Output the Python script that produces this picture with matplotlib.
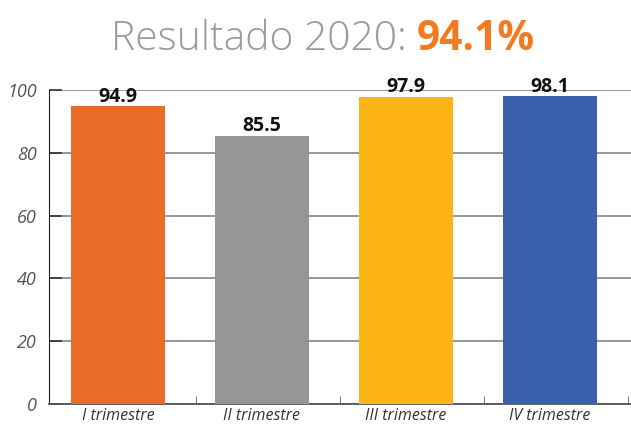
import matplotlib.pyplot as plt
import numpy as np

plt.rcParams['font.family'] = ['Open Sans', 'DejaVu Sans']

categorias = ["I trimestre", "II trimestre", "III trimestre", "IV trimestre"]
valores = [94.9, 85.5, 97.9, 98.1]
colores = ["#E96B25", "#969696", "#FDB415", "#3A5FAD"]
resultado = "94.1%"

W, H = 631, 426
fig = plt.figure(figsize=(W/100, H/100), dpi=100)
ax = fig.add_axes([49/W, 1 - 404/H, (W - 49)/W, (404 - 90)/H])

x = np.arange(len(categorias))
bars = ax.bar(x, valores, width=0.653, color=colores, zorder=3)
for b, v in zip(bars, valores):
    ax.text(b.get_x() + b.get_width()/2, v + 1.4, f"{v:.1f}", ha="center", va="baseline",
            fontsize=14, fontweight="bold", color="#111111", zorder=4)

ax.set_xlim(-0.479, 3.5625)
ax.set_ylim(0, 100)
ax.set_yticks(range(0, 101, 20))
ax.set_xticks(x)
ax.set_xticklabels(categorias, fontstyle="italic", fontsize=11.5, color="#333333")
ax.set_xticks(x + 0.542, minor=True)
ax.tick_params(axis="x", which="major", length=0, pad=3)
ax.tick_params(axis="x", which="minor", length=6, direction="in", color="#555555")
ax.tick_params(axis="y", length=9, width=1.2, direction="in", color="#333333", labelsize=13,
               labelcolor="#555555", pad=8.6)
for lab in ax.get_yticklabels():
    lab.set_fontstyle("italic")

ax.grid(axis="y", color="#8f8f8f", linewidth=1.3, zorder=0)
for s in ["top", "right"]:
    ax.spines[s].set_visible(False)
ax.spines["left"].set_color("#222222")
ax.spines["bottom"].set_color("#555555")
ax.spines["bottom"].set_linewidth(1.3)

fig.text(417/W, 1 - 50/H, "Resultado 2020: ", ha="right", va="baseline", fontsize=29.3,
         fontweight="light", color="#9A9A9A")
fig.text(417/W, 1 - 50/H, resultado, ha="left", va="baseline", fontsize=29.3,
         fontweight="bold", color="#F47A22")

fig.savefig("out.png", dpi=100)
